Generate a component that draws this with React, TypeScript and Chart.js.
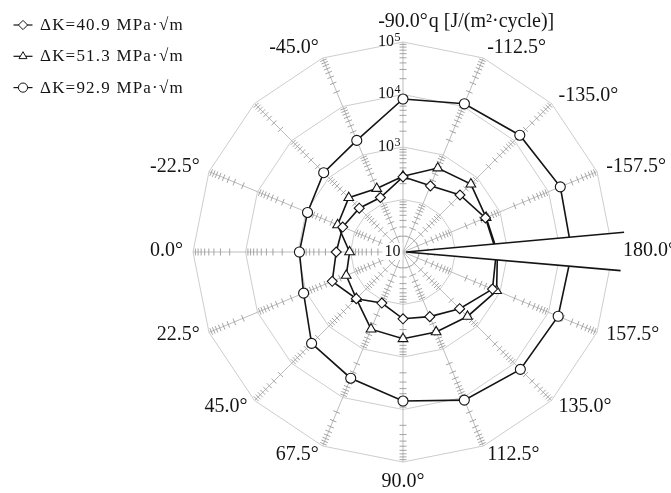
import React, { useEffect, useRef } from 'react';
import { Chart, registerables } from 'chart.js';
import { drawPoint } from 'chart.js/helpers';

Chart.register(...registerables);

// Polar angle of each spoke (degrees), clockwise from the top spoke.
const angleCategories = [-90, -112.5, -135, -157.5, 180, 157.5, 135, 112.5, 90, 67.5, 45, 22.5, 0, -22.5, -45, -67.5];
// Text printed at the end of each spoke ('' = no text).
const angleTickLabels = ['-90.0°', '-112.5°', '-135.0°', '-157.5°', '180.0°', '157.5°', '135.0°', '112.5°', '90.0°', '67.5°', '45.0°', '22.5°', '0.0°', '-22.5°', '', '-45.0°'];

// Logarithmic radial axis: ring values and the power of ten printed for each (null = unlabelled).
const radialTickValues = [10, 100, 1000, 10000, 100000];
const radialTickExponents = [1, null, 3, 4, 5];
const radialAxisTitle = 'q [J/(m²·cycle)]';

// Dissipated energy q [J/(m²·cycle)] around the crack tip, one value per spoke.
const seriesLabels = ['ΔK=40.9 MPa·√m', 'ΔK=51.3 MPa·√m', 'ΔK=92.9 MPa·√m'];
const qDeltaK409 = [270, 231, 343, 500, 600, 700, 336, 215, 187, 113, 181, 288, 187, 175, 151, 133];
const qDeltaK513 = [277, 537, 673, 518, 630, 850, 545, 445, 450, 390, 181, 148, 104, 223, 289, 203];
const qDeltaK929 = [8200, 11400, 14000, 17500, 16500, 15800, 14500, 11300, 6900, 4000, 2900, 1120, 940, 930, 1370, 2000];
const seriesMarkers = ['rectRot', 'triangle', 'circle'];
const seriesMarkerRadius = [5, 5.6, 5];

const SERIF = '"Liberation Serif", "Times New Roman", serif';
const INK = '#141414';

// Crack drawn as a wedge opening along the 180° spoke.
const CRACK_SPOKE = 180;
const CRACK_UPPER_DEG = 5.1;
const CRACK_LOWER_DEG = 4.9;
const CRACK_UPPER_REACH = 1.057;
const CRACK_LOWER_REACH = 1.04;
const CRACK_TIP_OFFSET = 3;

const LABEL_GAP = 10;

const log10 = (v: number) => Math.log10(v);

const spokeTicksPlugin = {
  id: 'spokeTicks',
  beforeDatasetsDraw(chart: any) {
    const scale = chart.scales.r;
    const ctx = chart.ctx;
    const n = chart.data.labels.length;
    const lo = Math.round(log10(radialTickValues[0]));
    const hi = Math.round(log10(radialTickValues[radialTickValues.length - 1]));
    ctx.save();
    ctx.strokeStyle = '#9a9a9a';
    ctx.lineWidth = 0.9;
    ctx.beginPath();
    for (let i = 0; i < n; i++) {
      const a = scale.getIndexAngle(i) - Math.PI / 2;
      const px = -Math.sin(a);
      const py = Math.cos(a);
      for (let d = lo; d < hi; d++) {
        for (let m = 2; m <= 9; m++) {
          const p = scale.getPointPositionForValue(i, d + log10(m));
          ctx.moveTo(p.x - px * 3.5, p.y - py * 3.5);
          ctx.lineTo(p.x + px * 3.5, p.y + py * 3.5);
        }
      }
    }
    ctx.stroke();

    // powers of ten printed just left of the top spoke
    const bigFont = `16px ${SERIF}`;
    const supFont = `12px ${SERIF}`;
    const right = scale.xCenter - 2.5;
    radialTickValues.forEach((v, k) => {
      const exp = radialTickExponents[k];
      if (exp === null) return;
      const r = scale.getDistanceFromCenterForValue(log10(v));
      const baseline = scale.yCenter - r - 1.5 + 5.4;
      const sup = exp === 1 ? '' : String(exp);
      ctx.font = bigFont;
      const wb = ctx.measureText('10').width;
      ctx.font = supFont;
      const ws = sup ? ctx.measureText(sup).width + 0.5 : 0;
      const x0 = right - ws - wb;
      if (k === 0) {
        // the centre label sits where all spokes meet; clear a patch behind it
        ctx.fillStyle = '#ffffff';
        ctx.fillRect(x0 - 2, baseline - 13, right - x0 + 4, 17);
      }
      ctx.fillStyle = INK;
      ctx.textAlign = 'left';
      ctx.textBaseline = 'alphabetic';
      ctx.font = bigFont;
      ctx.fillText('10', x0, baseline);
      if (sup) {
        ctx.font = supFont;
        ctx.fillText(sup, x0 + wb + 0.5, baseline - 5);
      }
    });
    ctx.restore();
  },
};

const crackAndLabelsPlugin = {
  id: 'crackAndLabels',
  afterDatasetsDraw(chart: any) {
    const scale = chart.scales.r;
    const ctx = chart.ctx;
    const n = chart.data.labels.length;

    // crack wedge
    const ci = angleCategories.indexOf(CRACK_SPOKE);
    const base = scale.getIndexAngle(ci) - Math.PI / 2;
    const tx = scale.xCenter + Math.cos(base) * CRACK_TIP_OFFSET;
    const ty = scale.yCenter + Math.sin(base) * CRACK_TIP_OFFSET;
    const up = base - (CRACK_UPPER_DEG * Math.PI) / 180;
    const dn = base + (CRACK_LOWER_DEG * Math.PI) / 180;
    const lu = scale.drawingArea * CRACK_UPPER_REACH;
    const ld = scale.drawingArea * CRACK_LOWER_REACH;
    const ux = scale.xCenter + Math.cos(up) * lu;
    const uy = scale.yCenter + Math.sin(up) * lu;
    const dx = scale.xCenter + Math.cos(dn) * ld;
    const dy = scale.yCenter + Math.sin(dn) * ld;
    ctx.save();
    ctx.fillStyle = '#ffffff';
    ctx.beginPath();
    ctx.moveTo(tx, ty);
    ctx.lineTo(ux, uy);
    ctx.lineTo(dx, dy);
    ctx.closePath();
    ctx.fill();
    ctx.strokeStyle = INK;
    ctx.lineWidth = 1.6;
    ctx.lineJoin = 'miter';
    ctx.beginPath();
    ctx.moveTo(ux, uy);
    ctx.lineTo(tx, ty);
    ctx.lineTo(dx, dy);
    ctx.stroke();

    // angle labels at the spoke ends
    ctx.font = `20px ${SERIF}`;
    ctx.fillStyle = INK;
    for (let i = 0; i < n; i++) {
      const text = angleTickLabels[i];
      if (!text) continue;
      const deg = (i * 360) / n;
      const p = scale.getPointPosition(i, scale.drawingArea + LABEL_GAP);
      let y = p.y;
      if (deg === 0) {
        ctx.textAlign = 'center';
        ctx.textBaseline = 'bottom';
      } else if (deg === 180) {
        ctx.textAlign = 'center';
        ctx.textBaseline = 'top';
      } else {
        ctx.textAlign = deg < 180 ? 'left' : 'right';
        ctx.textBaseline = 'middle';
        y = p.y - 1;
      }
      ctx.fillText(text, p.x, y);
      if (i === 0) {
        const w = ctx.measureText(text).width;
        ctx.textAlign = 'left';
        ctx.fillText(radialAxisTitle, p.x + w / 2 + 1, y);
      }
    }
    ctx.restore();
  },
  afterDraw(chart: any) {
    // legend in the upper-left corner
    const ctx = chart.ctx;
    const cx = 23;
    const y0 = 25;
    const step = 31.3;
    ctx.save();
    chart.data.datasets.forEach((ds: any, k: number) => {
      const cy = y0 + k * step;
      ctx.strokeStyle = INK;
      ctx.lineWidth = 1.2;
      ctx.beginPath();
      ctx.moveTo(cx - 9.5, cy);
      ctx.lineTo(cx + 9.5, cy);
      ctx.stroke();
      ctx.fillStyle = '#ffffff';
      ctx.strokeStyle = INK;
      ctx.lineWidth = 1;
      drawPoint(ctx, { pointStyle: ds.pointStyle, radius: 4.6, rotation: 0, borderWidth: 1 } as any, cx, cy);
      ctx.fillStyle = INK;
      ctx.font = `17px ${SERIF}`;
      ctx.textAlign = 'left';
      ctx.textBaseline = 'alphabetic';
      (ctx as any).letterSpacing = '1.2px';
      ctx.fillText(ds.label, 40, cy + 5);
      (ctx as any).letterSpacing = '0px';
    });
    ctx.restore();
  },
};

export default function App() {
  const canvasRef = useRef<HTMLCanvasElement | null>(null);

  useEffect(() => {
    const canvas = canvasRef.current;
    if (!canvas) return;
    const series = [qDeltaK409, qDeltaK513, qDeltaK929];
    const chart = new Chart(canvas, {
      type: 'radar',
      data: {
        labels: angleCategories.map((a) => `${a.toFixed(1)}°`),
        datasets: series.map((values, k) => ({
          label: seriesLabels[k],
          data: values.map(log10),
          borderColor: INK,
          borderWidth: 1.6,
          fill: false,
          pointStyle: seriesMarkers[k],
          pointRadius: seriesMarkerRadius[k],
          pointBackgroundColor: '#ffffff',
          pointBorderColor: INK,
          pointBorderWidth: 1.1,
        })),
      } as any,
      plugins: [spokeTicksPlugin, crackAndLabelsPlugin],
      options: {
        responsive: false,
        devicePixelRatio: 1,
        animation: false,
        layout: { padding: { left: 193, right: 58, top: 42, bottom: 31 } },
        elements: { line: { tension: 0 } },
        plugins: { legend: { display: false }, tooltip: { enabled: false } },
        scales: {
          r: {
            min: log10(radialTickValues[0]),
            max: log10(radialTickValues[radialTickValues.length - 1]),
            afterBuildTicks: (scale: any) => {
              scale.ticks = radialTickValues.map((v) => ({ value: log10(v) }));
            },
            ticks: { display: false },
            grid: { circular: false, color: '#cdcdcd', lineWidth: 1 },
            angleLines: { display: true, color: '#bdbdbd', lineWidth: 1 },
            pointLabels: { display: false },
          },
        },
      } as any,
    });
    return () => chart.destroy();
  }, []);

  return (
    <div style={{ position: 'fixed', left: 0, top: 0, width: 671, height: 493, background: '#ffffff' }}>
      <canvas ref={canvasRef} width={671} height={493} />
    </div>
  );
}
